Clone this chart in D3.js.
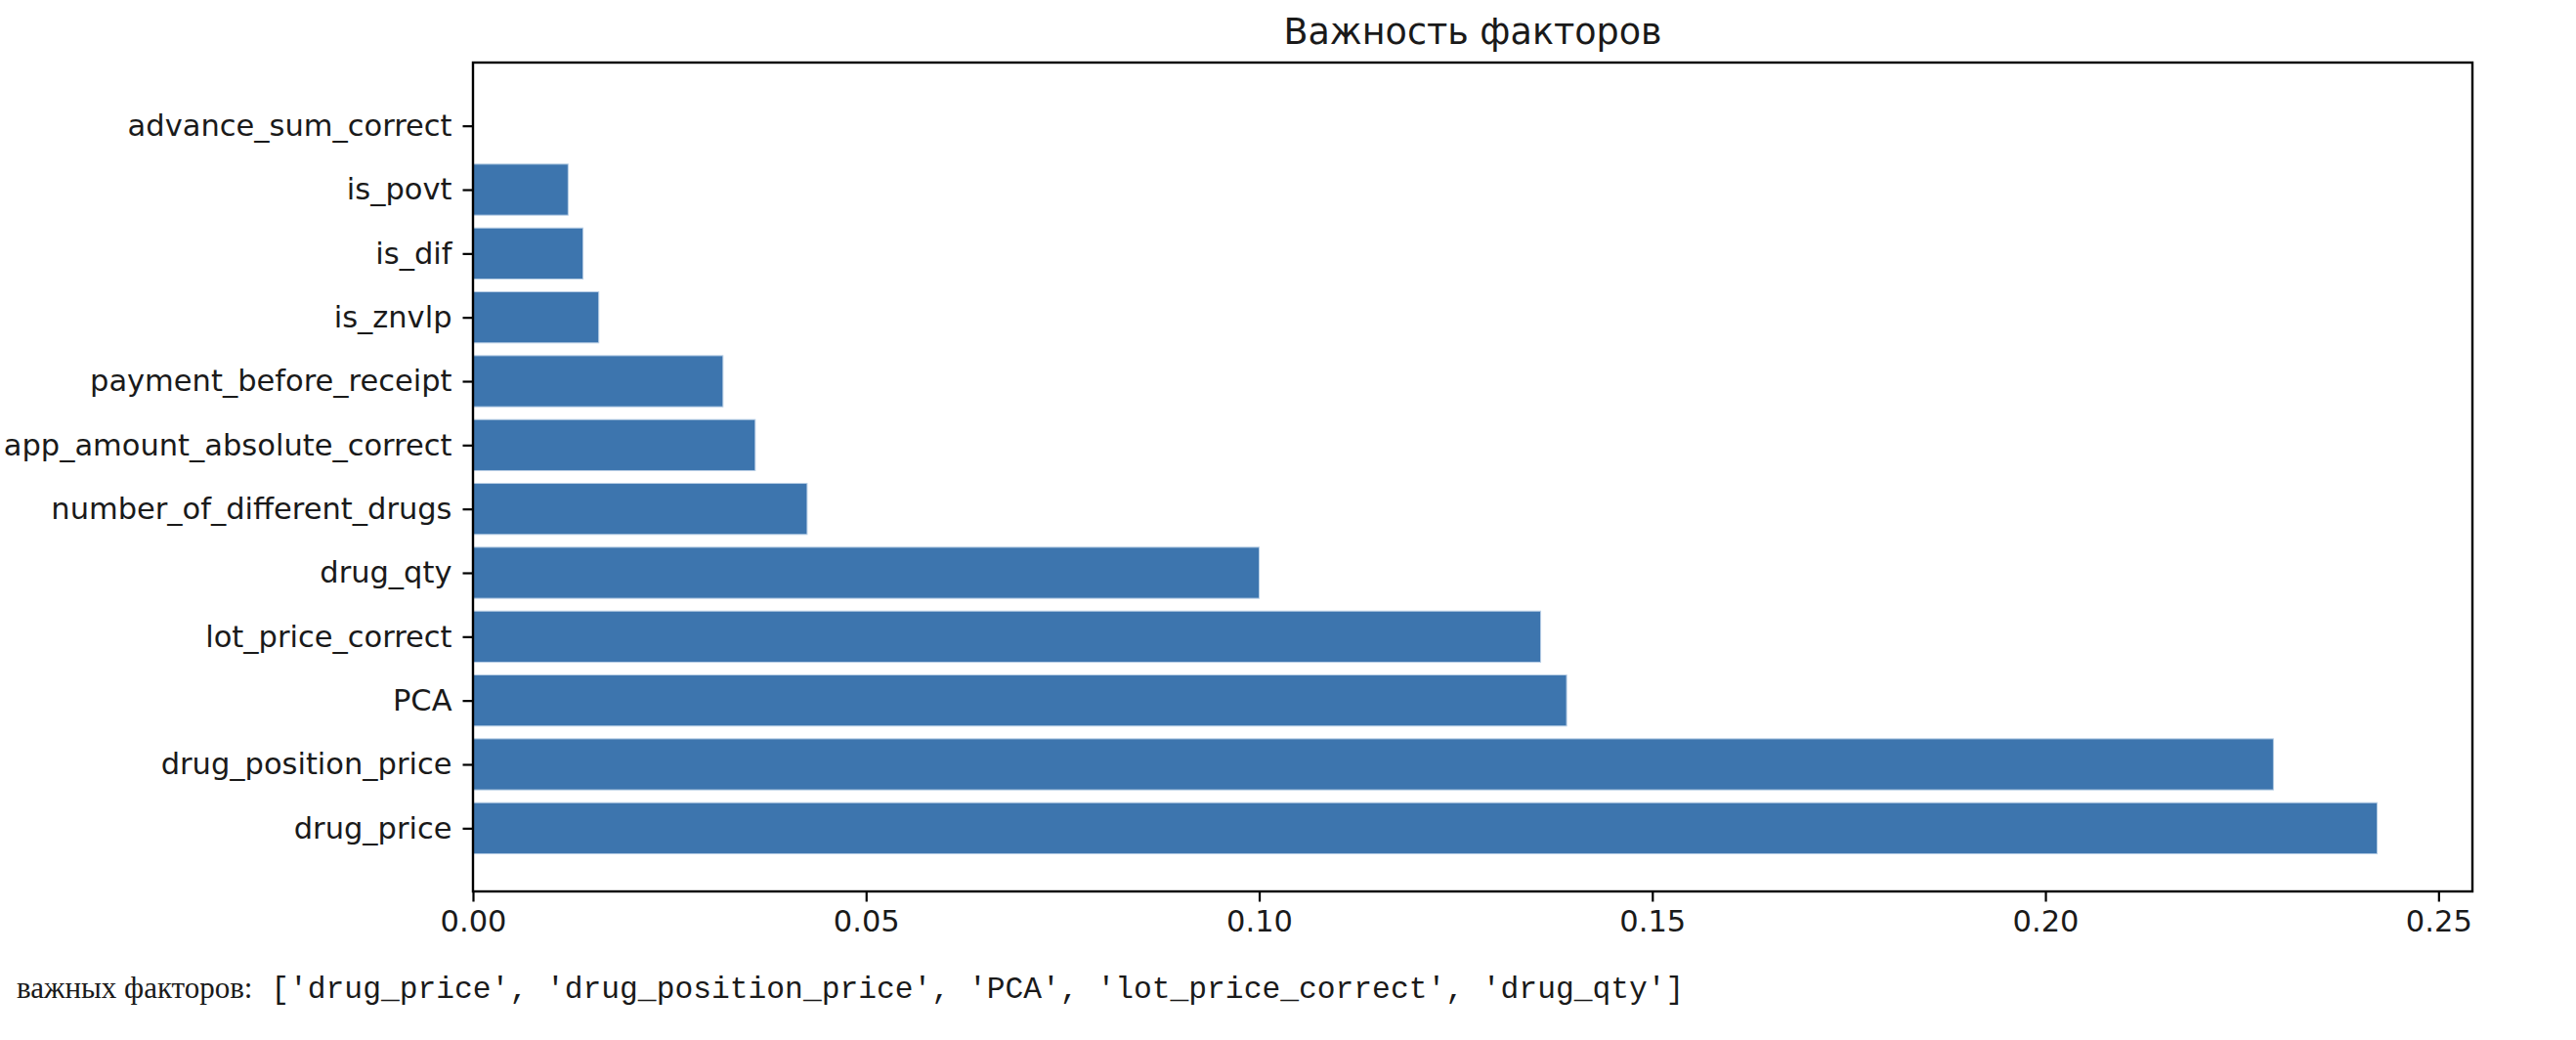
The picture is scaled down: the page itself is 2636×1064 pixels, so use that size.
<!DOCTYPE html>
<meta charset="utf-8">
<script src="https://d3js.org/d3.v7.min.js"></script>
<style>
	body {
		margin: 0;
		padding: 0;
		background: #fff;
		overflow: hidden;
	}
	text {
		fill: #1a1a1a;
	}
</style>
<div id="chart"></div>
<script>
	// feature names, bottom to top as matplotlib barh draws them
	const features = [
		"drug_price",
		"drug_position_price",
		"PCA",
		"lot_price_correct",
		"drug_qty",
		"number_of_different_drugs",
		"app_amount_absolute_correct",
		"payment_before_receipt",
		"is_znvlp",
		"is_dif",
		"is_povt",
		"advance_sum_correct"
	];
	const importances = [0.2422, 0.2290, 0.1391, 0.1358, 0.1000, 0.0425, 0.0359, 0.0318, 0.0160, 0.0140, 0.0121, 0.0];
	const xTicks = [0, 0.05, 0.10, 0.15, 0.20, 0.25];
	const title = "Важность факторов";
	const important = ["drug_price", "drug_position_price", "PCA", "lot_price_correct", "drug_qty"];

	const W = 2636, H = 1064;
	const m = { left: 484, right: 2530, top: 64, bottom: 912 };
	const font = "'DejaVu Sans', sans-serif";
	const fs = 30.5;

	const svg = d3.select("#chart").append("svg")
		.attr("width", W)
		.attr("height", H);

	// matplotlib-ish limits: bars are 0.8 high, 5% margin on y, sticky zero on x
	const n = features.length;
	const yPad = (n - 1 + 0.8) * 0.05;
	const y = d3.scaleLinear()
		.domain([-0.4 - yPad, n - 1 + 0.4 + yPad])
		.range([m.bottom, m.top]);
	const x = d3.scaleLinear()
		.domain([0, d3.max(importances) * 1.05])
		.range([m.left, m.right]);

	const data = features.map((f, i) => ({ name: f, value: importances[i], pos: i }));

	svg.append("g")
		.selectAll("rect")
		.data(data)
		.join("rect")
		.attr("x", x(0))
		.attr("y", d => y(d.pos + 0.4))
		.attr("width", d => x(d.value) - x(0))
		.attr("height", d => y(d.pos - 0.4) - y(d.pos + 0.4))
		.attr("fill", "#3d75ae")
		.attr("stroke", "#b9cfe6")
		.attr("stroke-width", d => d.value > 0 ? 1 : 0);

	// x axis
	const xAxis = svg.append("g")
		.attr("transform", `translate(0,${m.bottom})`)
		.call(d3.axisBottom(x).tickValues(xTicks).tickFormat(d3.format(".2f")).tickSize(10.5).tickPadding(9))
	xAxis.select(".domain").remove();
	xAxis.selectAll("line").attr("stroke", "#000").attr("stroke-width", 2.2);
	xAxis.selectAll("text").attr("font-family", font).attr("font-size", fs).attr("fill", "#1a1a1a");

	// y axis
	const yAxis = svg.append("g")
		.attr("transform", `translate(${m.left},0)`)
		.call(d3.axisLeft(y).tickValues(d3.range(n)).tickFormat(i => features[i]).tickSize(10.5).tickPadding(11))
	yAxis.select(".domain").remove();
	yAxis.selectAll("line").attr("stroke", "#000").attr("stroke-width", 2.2);
	yAxis.selectAll("text").attr("font-family", font).attr("font-size", fs).attr("fill", "#1a1a1a");

	// frame
	svg.append("rect")
		.attr("x", m.left)
		.attr("y", m.top)
		.attr("width", m.right - m.left)
		.attr("height", m.bottom - m.top)
		.attr("fill", "none")
		.attr("stroke", "#000")
		.attr("stroke-width", 2.4);

	svg.append("text")
		.attr("x", (m.left + m.right) / 2)
		.attr("y", 45)
		.attr("text-anchor", "middle")
		.attr("font-family", font)
		.attr("font-size", 36.5)
		.text(title);

	// printed output under the figure
	const out = svg.append("text")
		.attr("x", 17)
		.attr("y", 1021);
	out.append("tspan")
		.attr("font-family", "'Liberation Serif', serif")
		.attr("font-size", 31)
		.text("важных факторов:");
	out.append("tspan")
		.attr("font-family", "'Liberation Mono', monospace")
		.attr("font-size", 31.3)
		.attr("xml:space", "preserve")
		.text(" [" + important.map(d => `'${d}'`).join(", ") + "]");
</script>
